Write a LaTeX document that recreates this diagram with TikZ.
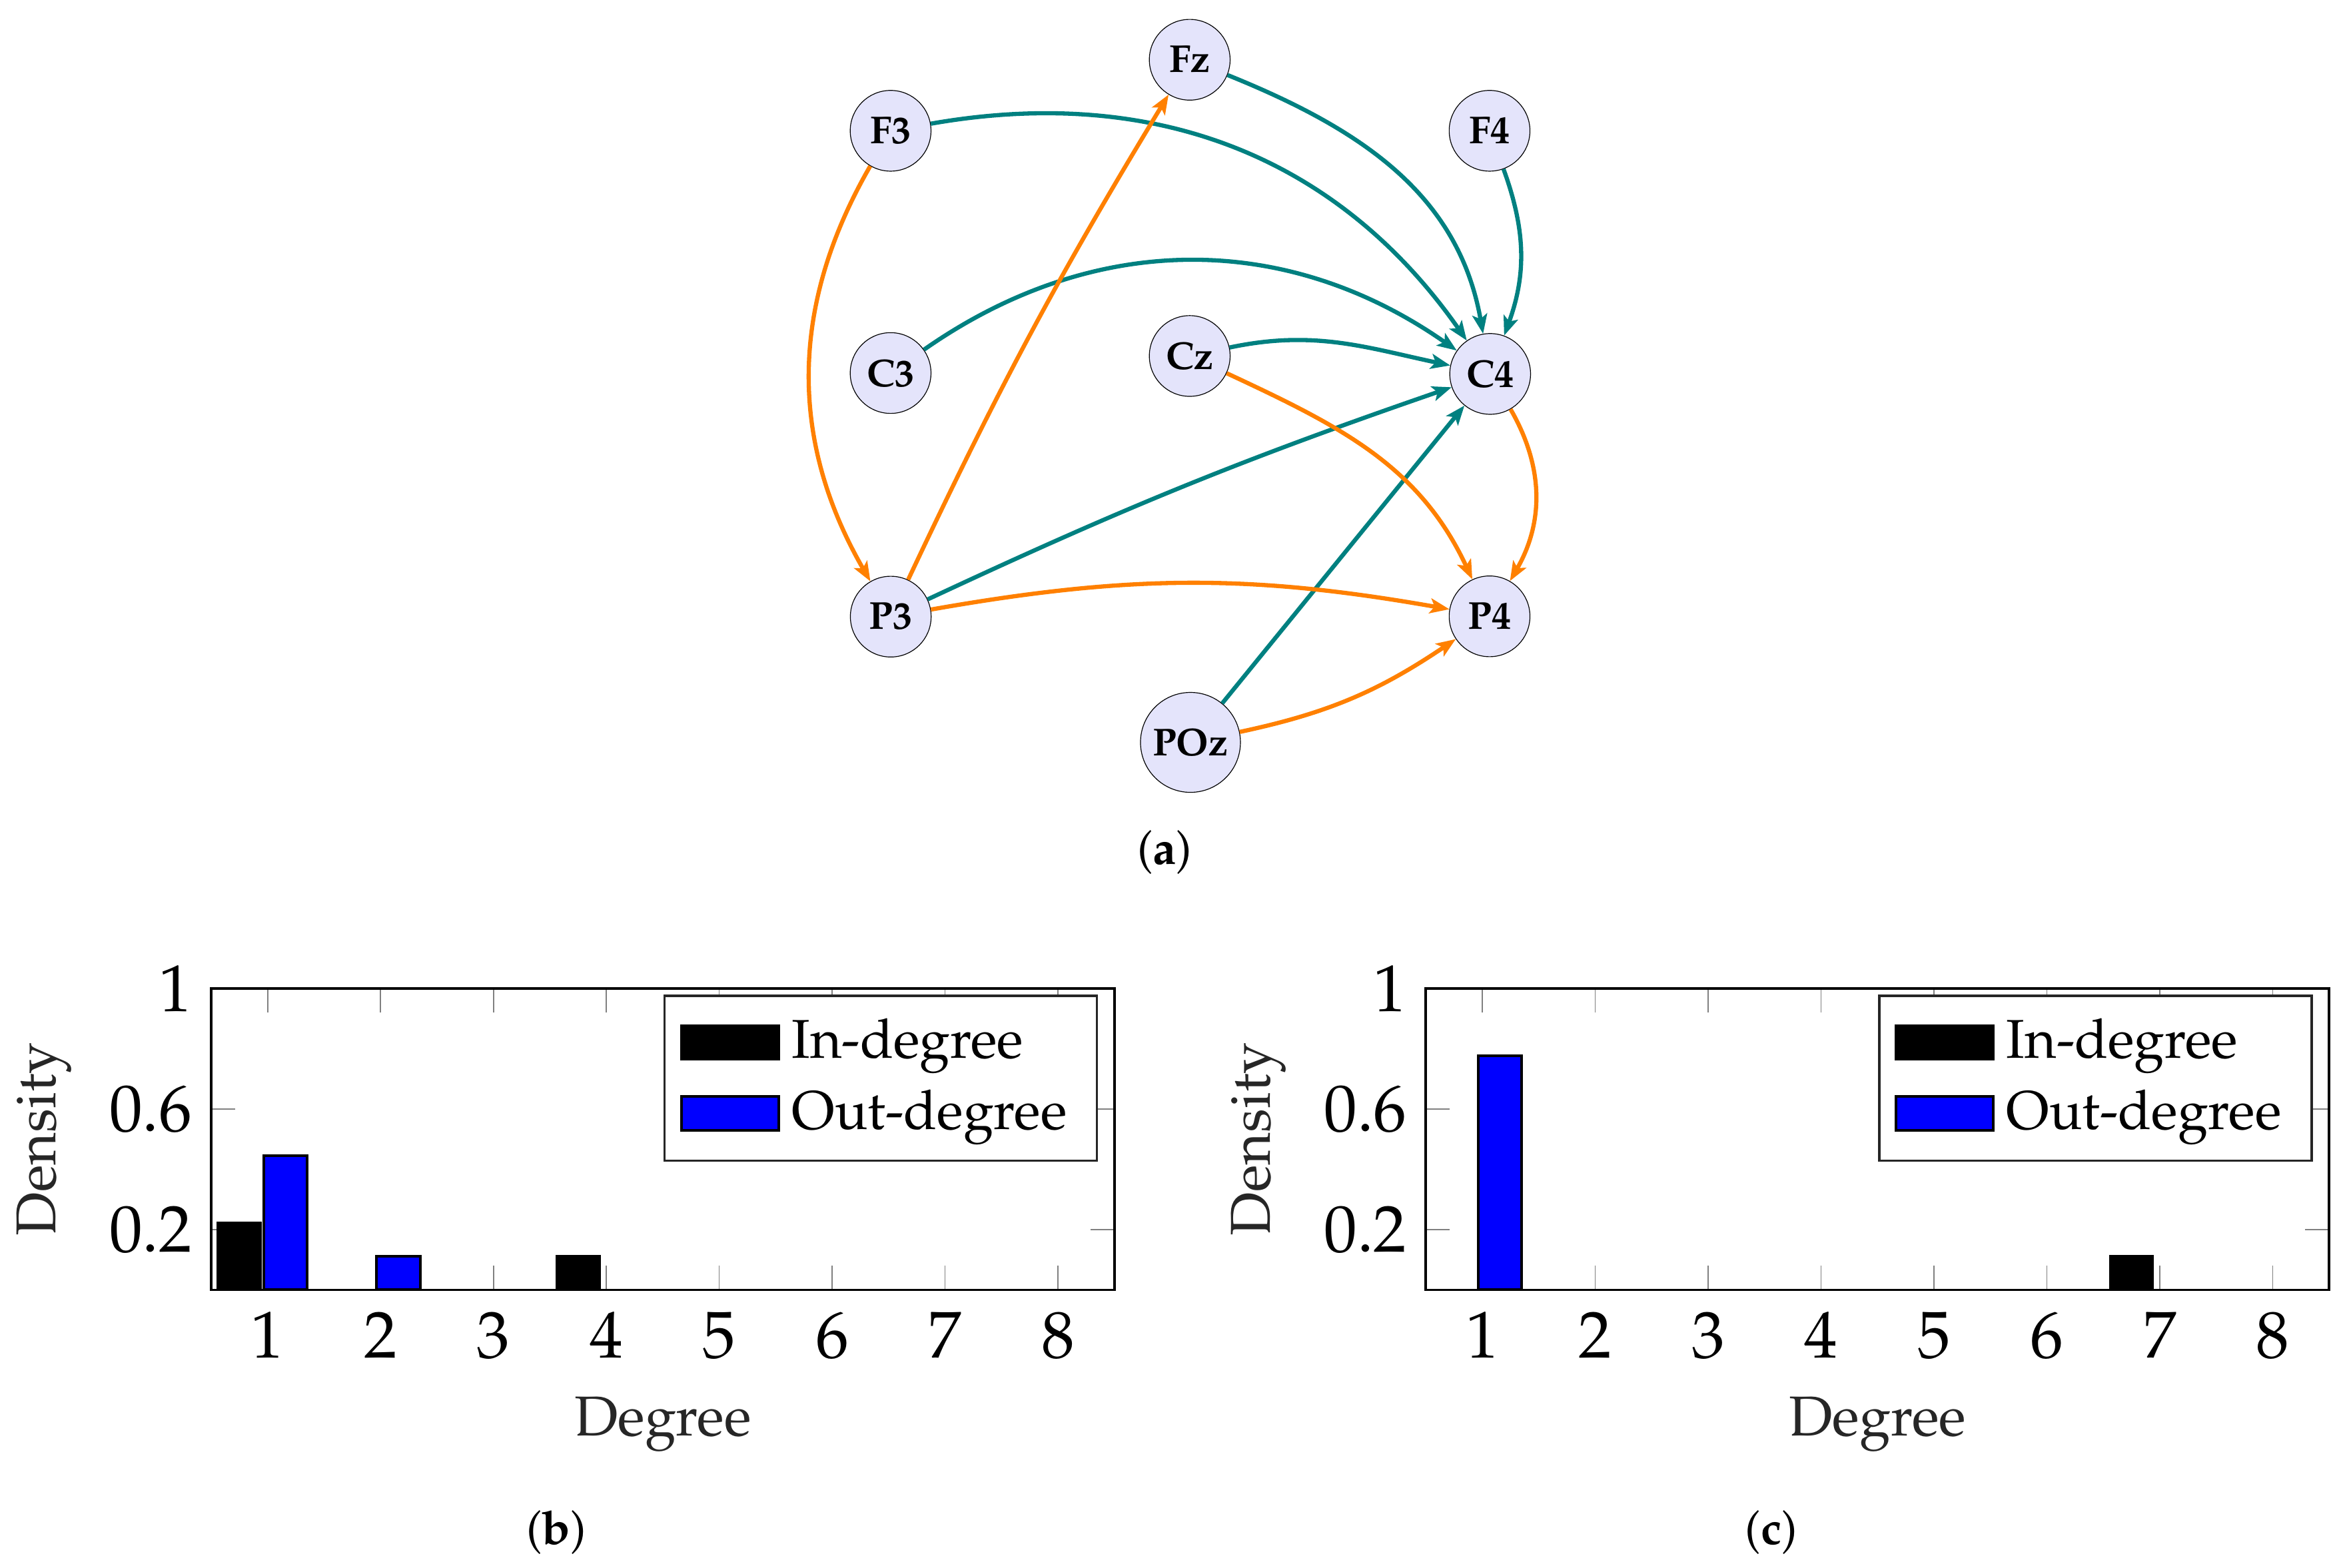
\documentclass[tikz,border=0pt]{standalone}
\usepackage[T1]{fontenc}
\usepackage{mathpazo}
\usetikzlibrary{arrows.meta}

\definecolor{nodefill}{RGB}{228,228,251}
\definecolor{linkteal}{RGB}{0,128,128}
\definecolor{linkorange}{RGB}{255,128,0}

\tikzset{
  chan/.style={circle, draw=black, line width=0.15pt, fill=nodefill,
    minimum size=5.4mm, inner sep=0.5mm, font=\fontsize{7.4}{8}\selectfont\bfseries},
  linkT/.style={-{Stealth[length=1.3mm, width=1mm, inset=0.3mm]}, line width=0.8pt, draw=linkteal},
  linkO/.style={-{Stealth[length=1.3mm, width=1mm, inset=0.3mm]}, line width=0.8pt, draw=linkorange},
  ticklab/.style={font=\fontsize{12.6}{14}\selectfont, inner sep=0pt},
  axlab/.style={font=\fontsize{10.7}{12}\selectfont, text=black!85, inner sep=0pt},
  legtext/.style={font=\fontsize{10.4}{12}\selectfont, inner sep=0pt, anchor=base west},
  swatch/.style={minimum width=6.5mm, minimum height=2.27mm, inner sep=0pt, draw=black, line width=0.5pt},
  inbar/.style={fill=black, draw=black, line width=0.5pt},
  outbar/.style={fill=blue, draw=black, line width=0.5pt},
  tickmark/.style={draw=gray, line width=0.2pt},
  axframe/.style={draw=black, line width=0.45pt},
  legframe/.style={draw=black!85, line width=0.45pt, fill=white},
  subcap/.style={font=\fontsize{8.9}{10}\selectfont, anchor=base, inner sep=0pt}
}

\begin{document}
\begin{tikzpicture}
  \useasboundingbox (0,0) rectangle (15.68,10.4816);

  % Electrode graph
  \node[chan] (Fz) at (7.955, 10.082) {Fz};
  \node[chan] (F3) at (5.955, 9.607) {F3};
  \node[chan] (F4) at (9.96, 9.607) {F4};
  \node[chan] (C3) at (5.955, 7.987) {C3};
  \node[chan] (Cz) at (7.955, 8.101) {Cz};
  \node[chan] (C4) at (9.964, 7.981) {C4};
  \node[chan] (P3) at (5.956, 6.358) {P3};
  \node[chan] (P4) at (9.96, 6.36) {P4};
  \node[chan, minimum size=6.56mm] (POz) at (7.96, 5.517) {POz};

  % Teal links
  \draw[linkT] (F3) to[out=10, in=125] (C4);
  \draw[linkT] (Fz) to[out=-22, in=100] (C4);
  \draw[linkT] (F4) to[out=-70, in=70] (C4);
  \draw[linkT] (C3) to[out=35, in=145] (C4);
  \draw[linkT] (Cz) to[out=12, in=168] (C4);
  \draw[linkT] (P3) to[bend left=3] (C4);
  \draw[linkT] (POz) -- (C4);

  % Orange links
  \draw[linkO] (F3) to[out=-120, in=120] (P3);
  \draw[linkO] (P3) to[bend left=3] (Fz);
  \draw[linkO] (Cz) to[out=-25, in=115] (P4);
  \draw[linkO] (C4) to[out=-60, in=60] (P4);
  \draw[linkO] (P3) to[out=10, in=170] (P4);
  \draw[linkO] (POz) to[out=12, in=-146] (P4);

  \node[subcap] (capa) at (7.787, 4.704) {(\textbf{a})};

  % Panel (b)
  \begin{scope}[shift={(1.0345,1.856)}, x=0.755cm, y=2.015cm]
    \foreach \k in {1,...,8} {
      \draw[tickmark] (\k,0) -- ++(0,1.6mm);
      \draw[tickmark] (\k,1) -- ++(0,-1.6mm);
      \node[ticklab, anchor=base] (bx\k) at ([yshift=-4.56mm]\k,0) {\k};
    }
    \foreach \v/\n in {0.2/a, 0.6/b, 1/c} {
      \draw[tickmark] (0.5,\v) -- ++(1.6mm,0);
      \draw[tickmark] (8.5,\v) -- ++(-1.6mm,0);
      \node[ticklab, anchor=east] (by\n) at ([xshift=-1.2mm]0.5,\v) {\v};
    }
    \draw[inbar] (0.561,0) rectangle (0.937,0.2222);
    \draw[outbar] (0.964,0) rectangle (1.35,0.4444);
    \draw[outbar] (1.964,0) rectangle (2.35,0.1111);
    \draw[inbar] (3.561,0) rectangle (3.937,0.1111);
    \draw[axframe] (0.5,0) rectangle (8.5,1);

    \draw[legframe] (4.515,0.429) rectangle (8.345,0.976);
    \node[swatch, fill=black] (bin) at (5.095,0.821) {};
    \node[legtext] (binl) at (5.633,0.768) {In-degree};
    \node[swatch, fill=blue] (bout) at (5.095,0.585) {};
    \node[legtext] (boutl) at (5.633,0.5315) {Out-degree};

    \node[axlab, anchor=base] (bdeg) at ([yshift=-9.76mm]4.5,0) {Degree};
    \node[axlab, rotate=90, anchor=base] (bden) at ([xshift=-10.42mm]0.5,0.5) {Density};
  \end{scope}
  \node[subcap] (capb) at (3.72, 0.155) {(\textbf{b})};

  % Panel (c)
  \begin{scope}[shift={(9.156,1.856)}, x=0.755cm, y=2.015cm]
    \foreach \k in {1,...,8} {
      \draw[tickmark] (\k,0) -- ++(0,1.6mm);
      \draw[tickmark] (\k,1) -- ++(0,-1.6mm);
      \node[ticklab, anchor=base] (cx\k) at ([yshift=-4.56mm]\k,0) {\k};
    }
    \foreach \v/\n in {0.2/a, 0.6/b, 1/c} {
      \draw[tickmark] (0.5,\v) -- ++(1.6mm,0);
      \draw[tickmark] (8.5,\v) -- ++(-1.6mm,0);
      \node[ticklab, anchor=east] (cy\n) at ([xshift=-1.2mm]0.5,\v) {\v};
    }
    \draw[outbar] (0.964,0) rectangle (1.35,0.7778);
    \draw[inbar] (6.561,0) rectangle (6.937,0.1111);
    \draw[axframe] (0.5,0) rectangle (8.5,1);

    \draw[legframe] (4.515,0.429) rectangle (8.345,0.976);
    \node[swatch, fill=black] (cin) at (5.095,0.821) {};
    \node[legtext] (cinl) at (5.633,0.768) {In-degree};
    \node[swatch, fill=blue] (cout) at (5.095,0.585) {};
    \node[legtext] (coutl) at (5.633,0.5315) {Out-degree};

    \node[axlab, anchor=base] (cdeg) at ([yshift=-9.76mm]4.5,0) {Degree};
    \node[axlab, rotate=90, anchor=base] (cden) at ([xshift=-10.42mm]0.5,0.5) {Density};
  \end{scope}
  \node[subcap] (capc) at (11.843, 0.155) {(\textbf{c})};
\end{tikzpicture}
\end{document}
